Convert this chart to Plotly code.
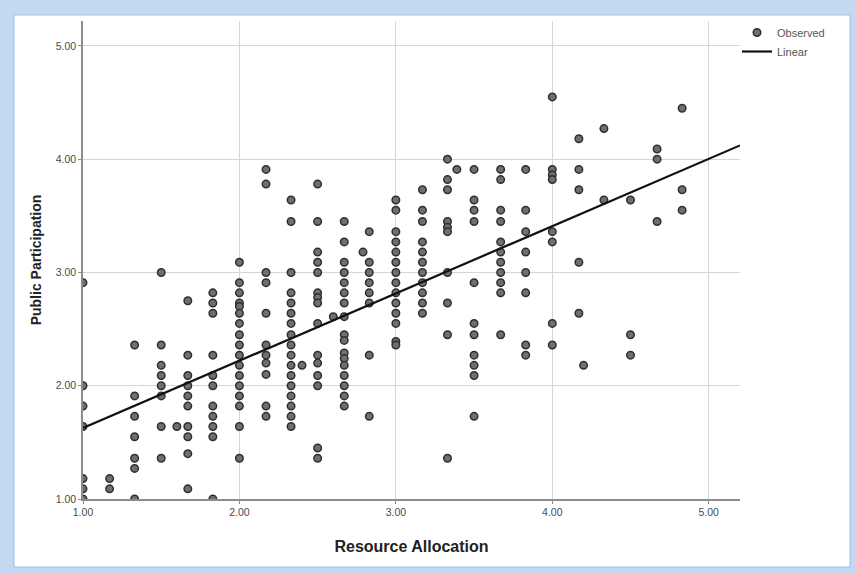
import plotly.graph_objects as go

# ---------------- data ----------------
ra_1_00 = [2.91, 2.00, 1.82, 1.64, 1.18, 1.09, 1.00]
ra_1_17 = [1.18, 1.09]
ra_1_33 = [2.36, 1.91, 1.73, 1.55, 1.36, 1.27, 1.00]
ra_1_50 = [3.00, 2.36, 2.18, 2.09, 2.00, 1.91, 1.64, 1.36]
ra_1_60 = [1.64]
ra_1_67 = [2.75, 2.27, 2.09, 2.00, 1.91, 1.82, 1.64, 1.55, 1.40, 1.09]
ra_1_83 = [2.82, 2.73, 2.64, 2.27, 2.09, 2.00, 1.82, 1.73, 1.64, 1.55, 1.00]
ra_2_00 = [3.09, 2.91, 2.82, 2.73, 2.70, 2.64, 2.55, 2.45, 2.36, 2.27, 2.18, 2.09, 2.00, 1.91, 1.82, 1.64, 1.36]
ra_2_17 = [3.91, 3.78, 3.00, 2.91, 2.64, 2.36, 2.27, 2.20, 2.10, 1.82, 1.73]
ra_2_33 = [3.64, 3.45, 3.00, 2.82, 2.73, 2.64, 2.55, 2.45, 2.36, 2.27, 2.18, 2.09, 2.00, 1.91, 1.82, 1.73, 1.64]
ra_2_40 = [2.18]
ra_2_50 = [3.78, 3.45, 3.18, 3.09, 3.00, 2.82, 2.78, 2.73, 2.55, 2.27, 2.20, 2.09, 2.00, 1.45, 1.36]
ra_2_60 = [2.61]
ra_2_67 = [3.45, 3.27, 3.09, 3.00, 2.91, 2.82, 2.73, 2.61, 2.45, 2.40, 2.29, 2.24, 2.18, 2.09, 2.00, 1.91, 1.82]
ra_2_79 = [3.18]
ra_2_83 = [3.36, 3.09, 3.00, 2.91, 2.82, 2.73, 2.27, 1.73]
ra_3_00 = [3.64, 3.55, 3.36, 3.27, 3.18, 3.09, 3.00, 2.91, 2.82, 2.73, 2.64, 2.55, 2.39, 2.36]
ra_3_17 = [3.73, 3.55, 3.45, 3.27, 3.18, 3.09, 3.00, 2.91, 2.82, 2.73, 2.64]
ra_3_33 = [4.00, 3.82, 3.73, 3.45, 3.40, 3.36, 3.00, 2.73, 2.45, 1.36]
ra_3_39 = [3.91]
ra_3_50 = [3.91, 3.64, 3.55, 3.45, 2.91, 2.55, 2.45, 2.27, 2.18, 2.09, 1.73]
ra_3_67 = [3.91, 3.82, 3.55, 3.45, 3.27, 3.18, 3.09, 3.00, 2.91, 2.82, 2.45]
ra_3_83 = [3.91, 3.55, 3.36, 3.18, 3.00, 2.82, 2.36, 2.27]
ra_4_00 = [4.55, 3.91, 3.86, 3.82, 3.36, 3.27, 2.55, 2.36]
ra_4_17 = [4.18, 3.91, 3.73, 3.09, 2.64]
ra_4_20 = [2.18]
ra_4_33 = [4.27, 3.64]
ra_4_50 = [3.64, 2.45, 2.27]
ra_4_67 = [4.09, 4.00, 3.45]
ra_4_83 = [4.45, 3.73, 3.55]

resource_levels = [1.00, 1.17, 1.33, 1.50, 1.60, 1.67, 1.83, 2.00, 2.17, 2.33, 2.40,
                   2.50, 2.60, 2.67, 2.79, 2.83, 3.00, 3.17, 3.33, 3.39, 3.50, 3.67,
                   3.83, 4.00, 4.17, 4.20, 4.33, 4.50, 4.67, 4.83]
participation_columns = [ra_1_00, ra_1_17, ra_1_33, ra_1_50, ra_1_60, ra_1_67, ra_1_83,
                         ra_2_00, ra_2_17, ra_2_33, ra_2_40, ra_2_50, ra_2_60, ra_2_67,
                         ra_2_79, ra_2_83, ra_3_00, ra_3_17, ra_3_33, ra_3_39, ra_3_50,
                         ra_3_67, ra_3_83, ra_4_00, ra_4_17, ra_4_20, ra_4_33, ra_4_50,
                         ra_4_67, ra_4_83]

# linear fit
fit_intercept = 1.033
fit_slope = 0.594

x_range = [1.0, 5.2]
y_range = [1.0, 5.22]
tick_vals = [1, 2, 3, 4, 5]

obs_x, obs_y = [], []
for xv, col in zip(resource_levels, participation_columns):
    for yv in col:
        obs_x.append(xv)
        obs_y.append(yv)

fit_x = list(x_range)
fit_y = [fit_intercept + fit_slope * v for v in fit_x]

# ---------------- layout geometry ----------------
W, H = 856, 573
ML, MR, MT, MB = 83, 116, 21, 74
PW, PH = W - ML - MR, H - MT - MB


def px_x(p):
    return (p - ML) / PW


def px_y(p):
    return (H - MB - p) / PH


FONT = "Liberation Sans, Arial, sans-serif"

fig = go.Figure()
fig.add_trace(go.Scatter(
    x=obs_x, y=obs_y, mode="markers", name="Observed",
    marker=dict(size=7.5, color="#6f6f6f", line=dict(color="#2f2f2f", width=1.5)),
))
fig.add_trace(go.Scatter(
    x=fit_x, y=fit_y, mode="lines", name="Linear",
    line=dict(color="#111111", width=2.2),
))

axis_common = dict(
    showgrid=True, gridcolor="#d6d6d6", gridwidth=1,
    showline=True, linecolor="#8c8c8c", linewidth=1.5,
    ticks="outside", ticklen=3, tickcolor="#8c8c8c",
    tickvals=tick_vals, tickformat=".2f",
    tickfont=dict(family=FONT, size=10.5, color="#4a4a4a"),
    zeroline=False, fixedrange=True,
)

fig.update_layout(
    width=W, height=H,
    margin=dict(l=ML, r=MR, t=MT, b=MB, pad=0),
    paper_bgcolor="#c3d9f2",
    plot_bgcolor="rgba(0,0,0,0)",
    xaxis=dict(range=x_range, **axis_common,
               title=dict(text="Resource Allocation", standoff=23,
                          font=dict(family=FONT, size=16, color="#222222", weight="bold"))),
    yaxis=dict(range=y_range, **axis_common,
               title=dict(text="Public Participation", standoff=11,
                          font=dict(family=FONT, size=14, color="#222222", weight="bold"))),
    showlegend=True,
    legend=dict(x=px_x(737), y=px_y(18), xanchor="left", yanchor="top",
                bgcolor="rgba(0,0,0,0)", borderwidth=0,
                font=dict(family=FONT, size=11, color="#555555"),
                itemwidth=30, tracegroupgap=0),
    shapes=[
        dict(type="rect", xref="paper", yref="paper", layer="below",
             x0=px_x(14), x1=px_x(850), y0=px_y(567), y1=px_y(15),
             fillcolor="#ffffff", line=dict(color="#9fc0e6", width=1)),
    ],
)

fig.write_html(
    "out.html",
    config={"displayModeBar": False},
    post_script="document.body.style.margin='0';document.body.style.overflow='hidden';",
)
